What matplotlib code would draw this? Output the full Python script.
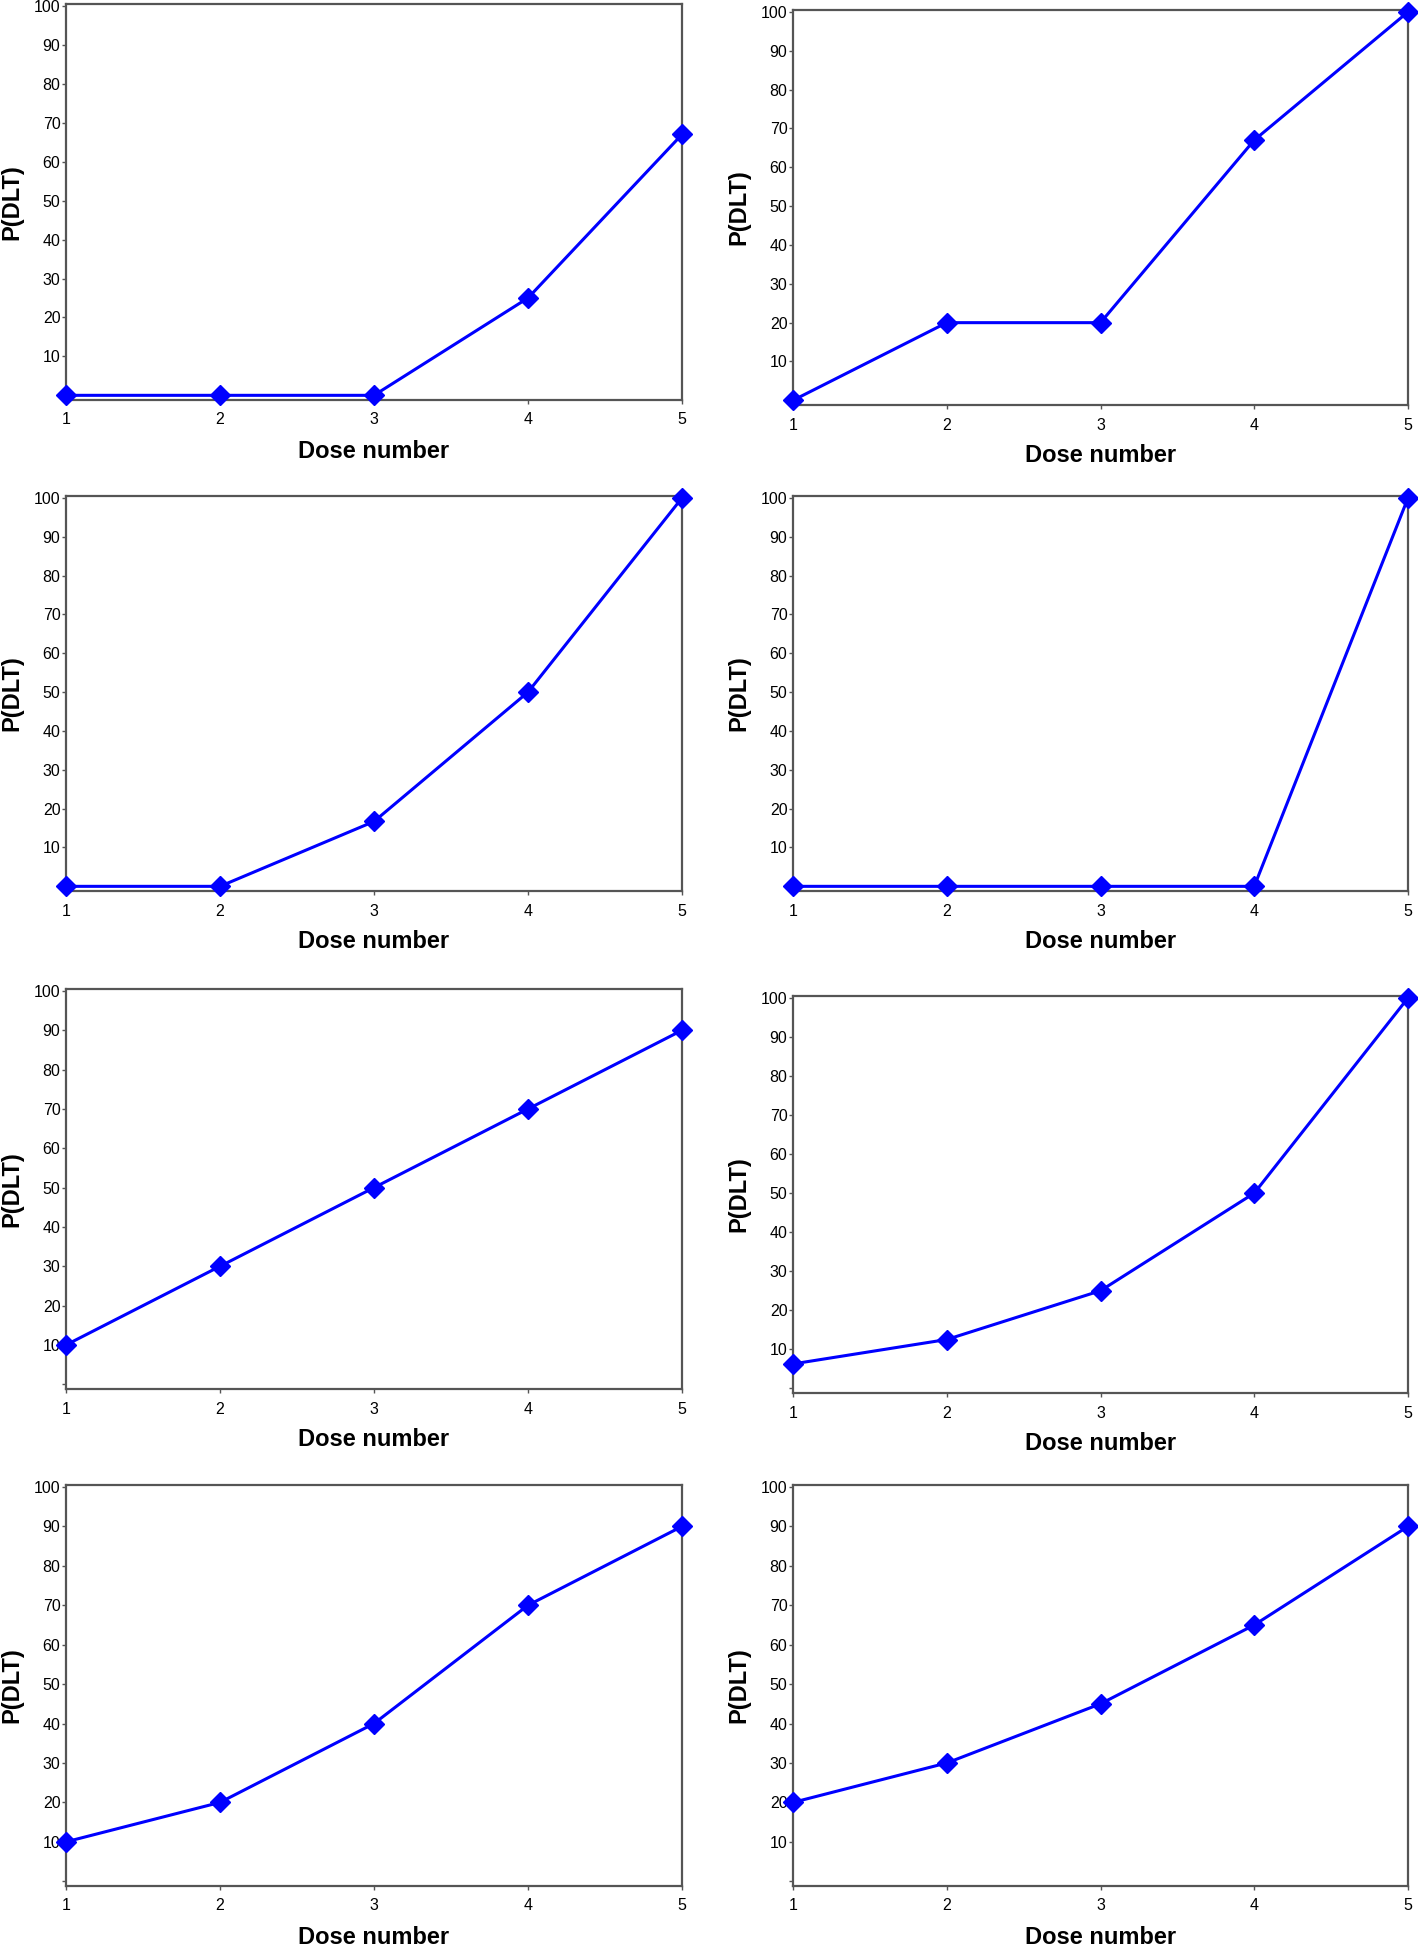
import matplotlib
matplotlib.use("Agg")
import matplotlib.pyplot as plt

plt.rcParams['font.family'] = ['Liberation Sans', 'DejaVu Sans']

doses = [1, 2, 3, 4, 5]
p1 = [0, 0, 0, 25, 67]
p2 = [0, 20, 20, 67, 100]
p3 = [0, 0, 16.7, 50, 100]
p4 = [0, 0, 0, 0, 100]
p5 = [10, 30, 50, 70, 90]
p6 = [6.25, 12.5, 25, 50, 100]
p7 = [10, 20, 40, 70, 90]
p8 = [20, 30, 45, 65, 90]
series = [p1, p2, p3, p4, p5, p6, p7, p8]

ytick_vals = [0, 10, 20, 30, 40, 50, 60, 70, 80, 90, 100]
ytick_labels = [''] + [str(v) for v in ytick_vals[1:]]
xtick_labels = ['1', '2', '3', '4', '5']
xlabel = 'Dose number'
ylabel = 'P(DLT)'

W, H = 1418, 1946
fig = plt.figure(figsize=(W / 100, H / 100), dpi=100)

# (left, right, top, bottom) in pixels
boxes = [
    (66, 682, 4, 400), (793, 1408, 10, 405),
    (66, 682, 496, 891), (793, 1408, 496, 891),
    (66, 682, 989, 1389), (793, 1408, 996, 1393),
    (66, 682, 1485, 1886), (793, 1408, 1485, 1886),
]

for (l, r, t, b), ys in zip(boxes, series):
    ax = fig.add_axes([l / W, 1 - b / H, (r - l) / W, (b - t) / H])
    ax.plot(doses, ys, color='#0000FF', lw=2.2, marker='D', markersize=10.5,
            markeredgecolor='#0000FF', markerfacecolor='#0000FF', clip_on=False, zorder=5)
    ax.set_xlim(1, 5)
    ax.set_ylim(-1.2, 100.5)
    ax.set_xticks(doses)
    ax.set_xticklabels(xtick_labels)
    ax.set_yticks(ytick_vals)
    ax.set_yticklabels(ytick_labels)
    for s in ax.spines.values():
        s.set_color('#555555')
        s.set_linewidth(1.6)
    ax.tick_params(axis='both', length=3, width=1, color='#555555', labelsize=11.5, pad=1)
    ax.tick_params(axis='x', pad=6)
    ax.set_xlabel(xlabel, fontsize=17, fontweight='bold')
    ax.set_ylabel(ylabel, fontsize=17, fontweight='bold')
    ax.yaxis.set_label_coords(-54 / (r - l), 0.5)
    ax.yaxis.label.set_verticalalignment('center')
    ax.xaxis.set_label_coords(0.5, -51 / (b - t))
    ax.xaxis.label.set_verticalalignment('center')

fig.savefig('out.png', dpi=100)
